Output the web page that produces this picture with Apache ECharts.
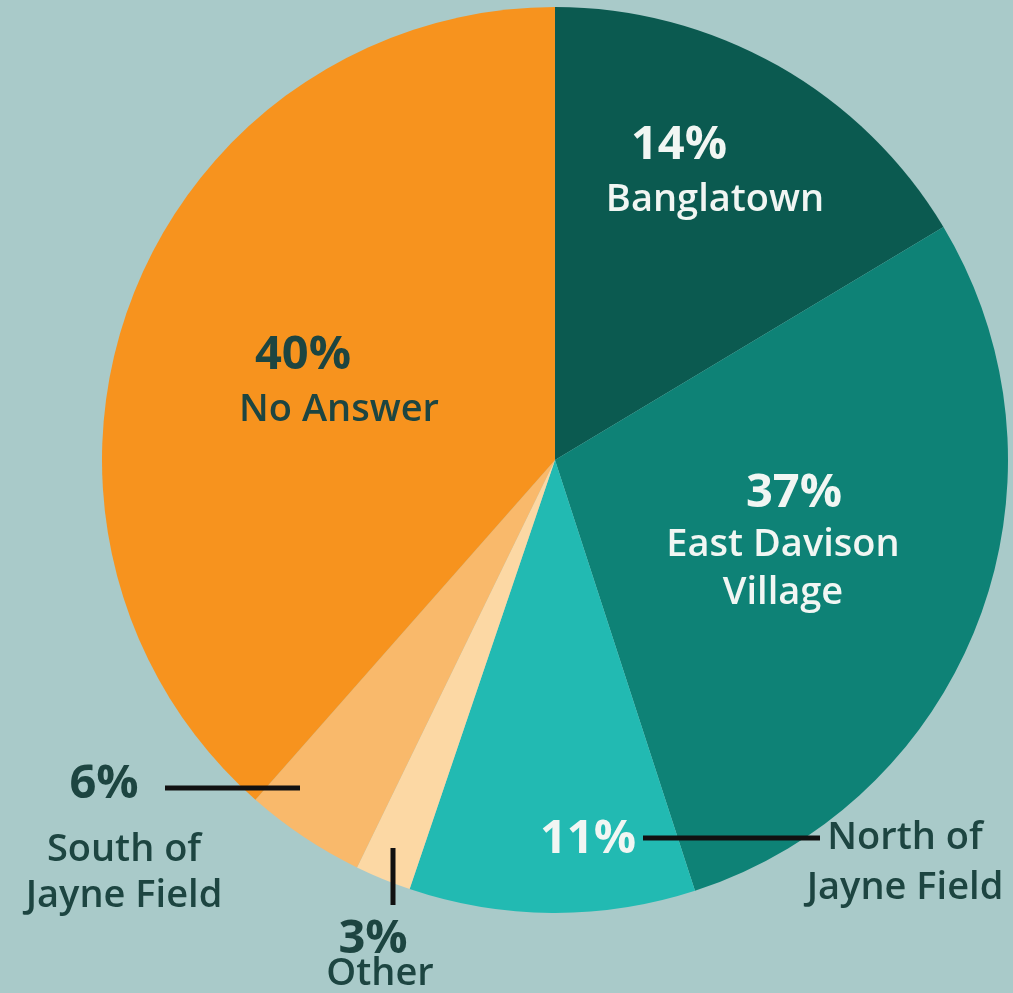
<!DOCTYPE html>
<html>
<head>
<meta charset="utf-8">
<script src="https://cdn.jsdelivr.net/npm/echarts@6/dist/echarts.min.js"></script>
<style>
  html, body { margin: 0; padding: 0; background: #a9cac9; }
  #chart { width: 1013px; height: 993px; }
</style>
</head>
<body>
<div id="chart"></div>
<script>
// slices, clockwise from 12 o'clock
var categories = ["Banglatown", "East Davison Village", "North of Jayne Field", "Other", "South of Jayne Field", "No Answer"];
// share of the circle each slice covers in the picture
var sliceValues = [16.4, 28.6, 10.2, 2.0, 4.3, 38.5];
// percentages as printed on the chart
var pctLabels = ["14%", "37%", "11%", "3%", "6%", "40%"];
var nameLines = [["Banglatown"], ["East Davison", "Village"], ["North of", "Jayne Field"], ["Other"], ["South of", "Jayne Field"], ["No Answer"]];

var colors = ["#0b5a50", "#0e8276", "#22bab2", "#fcd8a4", "#f9b96b", "#f7931e"];
var white = "#f1f6f3", dark = "#1d4541";

var FONT = "'Open Sans', 'Noto Sans', sans-serif";

// label placement (px) and shift of the % line against the name lines
var inside = {
  0: { x: 715, y: 173, color: white, shift: -36, names: true },
  1: { x: 783, y: 542, color: white, shift: 11, names: true },
  2: { x: 588, y: 840, color: white, shift: 0, names: false },
  5: { x: 339, y: 383, color: dark, shift: -36, names: true }
};
var outside = {
  2: { x: 905, y: 813, pct: false, shift: 0, line: [[643, 838], [820, 838]] },
  3: { x: 380, y: 922, pct: true, shift: -7, pctLH: 36, nameLH: 32, line: [[393, 848], [393, 905]] },
  4: { x: 124, y: 743, pct: true, shift: -20, pctLH: 84, nameLH: 46, line: [[300, 788], [165, 788]] }
};

function pctStyle(shift, color, lh) {
  return {
    fontFamily: FONT, fontSize: 47, fontWeight: 700, color: color, lineHeight: lh || 56,
    padding: shift < 0 ? [0, -shift * 2, 0, 0] : [0, 0, 0, shift * 2]
  };
}
function nameStyle(color, lh) {
  return { fontFamily: FONT, fontSize: 38, fontWeight: 600, color: color, lineHeight: lh || 48 };
}

var insideData = categories.map(function (c, i) {
  var cfg = inside[i];
  var d = { name: c, value: sliceValues[i], itemStyle: { color: colors[i] } };
  if (!cfg) {
    d.label = { show: false };
    return d;
  }
  var txt = "{p|" + pctLabels[i] + "}";
  if (cfg.names) txt += "\n" + nameLines[i].map(function (s) { return "{n|" + s + "}"; }).join("\n");
  d.label = {
    show: true,
    formatter: txt,
    rich: { p: pctStyle(cfg.shift, cfg.color, 55), n: nameStyle(cfg.color, i === 1 ? 48 : 54) }
  };
  return d;
});

var outsideData = categories.map(function (c, i) {
  var cfg = outside[i];
  var d = { name: c, value: sliceValues[i], itemStyle: { color: "rgba(0,0,0,0)" } };
  if (!cfg) {
    d.label = { show: false };
    d.labelLine = { show: false };
    return d;
  }
  var parts = [];
  if (cfg.pct) parts.push("{p|" + pctLabels[i] + "}");
  nameLines[i].forEach(function (s) { parts.push("{n|" + s + "}"); });
  d.label = {
    show: true,
    formatter: parts.join("\n"),
    rich: { p: pctStyle(cfg.shift, dark, cfg.pctLH), n: nameStyle(dark, cfg.nameLH || 50) }
  };
  d.labelLine = { show: true };
  return d;
});

var chart = echarts.init(document.getElementById("chart"));
var option = {
  backgroundColor: "#a9cac9",
  animation: false,
  series: [
    {
      type: "pie",
      z: 2,
      center: [555, 460],
      radius: 453,
      startAngle: 90,
      clockwise: true,
      silent: true,
      avoidLabelOverlap: false,
      label: { position: "inside" },
      labelLine: { show: false },
      data: insideData,
      labelLayout: function (p) {
        var cfg = inside[p.dataIndex];
        if (!cfg) return {};
        return { x: cfg.x, y: cfg.y, align: "center", verticalAlign: "middle" };
      }
    },
    {
      type: "pie",
      z: 5,
      center: [555, 460],
      radius: 453,
      startAngle: 90,
      clockwise: true,
      silent: true,
      avoidLabelOverlap: false,
      label: { position: "outside" },
      labelLine: { show: true, lineStyle: { color: "#111", width: 5 } },
      data: outsideData,
      labelLayout: function (p) {
        var cfg = outside[p.dataIndex];
        if (!cfg) return {};
        var pts = [cfg.line[0], cfg.line[0], cfg.line[1]];
        return { x: cfg.x, y: cfg.y, align: "center", verticalAlign: "top", labelLinePoints: pts };
      }
    }
  ]
};
chart.setOption(option);
window.addEventListener("resize", chart.resize);
</script>
</body>
</html>
